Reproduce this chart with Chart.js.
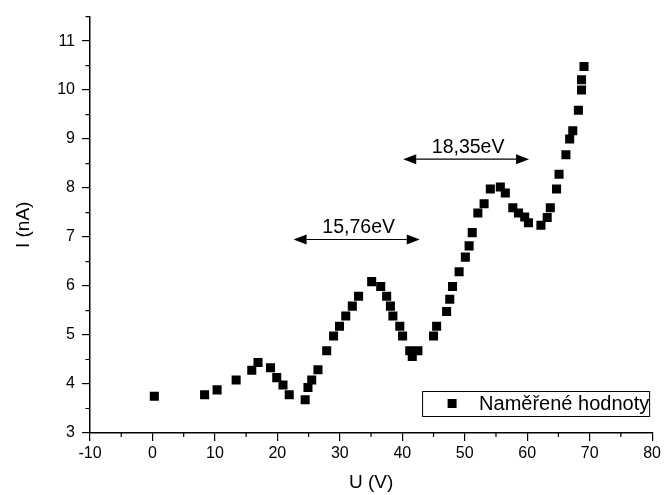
<!DOCTYPE html>
<html>
<head>
<meta charset="utf-8">
<script src="https://cdn.jsdelivr.net/npm/chart.js@4/dist/chart.umd.min.js"></script>
<style>
  html, body { margin: 0; padding: 0; background: #fff; }
</style>
</head>
<body>
<canvas id="chart" width="664" height="495"></canvas>
<script>
// measured values: U (V) and I (nA)
const uValues = [0.3, 8.35, 10.35, 13.4, 15.9, 16.9, 18.9, 19.9, 20.9, 21.9,
  24.45, 24.9, 25.5, 26.5, 27.9, 29.0, 29.95, 30.95, 32.0, 33.0,
  35.1, 36.55, 37.5, 38.1, 38.5, 39.6, 40.05, 41.2, 41.6, 42.5,
  45.0, 45.5, 47.1, 47.6, 48.05, 49.1, 50.1, 50.7, 51.2, 52.1,
  53.1, 54.1, 55.7, 56.5, 57.7, 58.6, 59.6, 60.2, 62.2, 63.2,
  63.7, 64.7, 65.1, 66.2, 66.8, 67.3, 68.2, 68.7, 68.7, 69.1];
const iValues = [3.75, 3.78, 3.88, 4.08, 4.28, 4.44, 4.33, 4.13, 3.98, 3.78,
  3.68, 3.93, 4.08, 4.29, 4.68, 4.98, 5.18, 5.39, 5.59, 5.79,
  6.09, 5.99, 5.79, 5.59, 5.39, 5.18, 4.98, 4.68, 4.56, 4.68,
  4.98, 5.18, 5.48, 5.73, 5.99, 6.29, 6.59, 6.82, 7.09, 7.49,
  7.68, 7.98, 8.02, 7.9, 7.6, 7.49, 7.41, 7.29, 7.24, 7.4,
  7.6, 7.98, 8.28, 8.68, 9.0, 9.17, 9.59, 10.0, 10.21, 10.48];
const seriesLabel = 'Naměřené hodnoty';

// axis ticks
const xMinorTicks = [-5, 5, 15, 25, 35, 45, 55, 65, 75];
const yMinorTicks = [3.5, 4.5, 5.5, 6.5, 7.5, 8.5, 9.5, 10.5, 11.5];

// energy gaps marked with double arrows (in data units)
const gapLabels = ['15,76eV', '18,35eV'];
const gapFrom = [22.6, 40.15];
const gapTo = [42.8, 60.3];
const gapLevel = [6.95, 8.59];

const points = uValues.map((u, i) => ({ x: u, y: iValues[i] }));
const fontFamily = '"Liberation Sans", Arial, sans-serif';

const extras = {
  id: 'extras',
  afterDraw(chart) {
    const { ctx, scales: { x, y }, chartArea } = chart;
    ctx.save();
    ctx.strokeStyle = '#000';
    ctx.fillStyle = '#000';

    // minor ticks
    ctx.lineWidth = 1.2;
    ctx.beginPath();
    xMinorTicks.forEach(v => {
      const px = x.getPixelForValue(v);
      ctx.moveTo(px, chartArea.bottom);
      ctx.lineTo(px, chartArea.bottom + 4);
    });
    yMinorTicks.forEach(v => {
      const py = y.getPixelForValue(v);
      ctx.moveTo(chartArea.left, py);
      ctx.lineTo(chartArea.left - 4.5, py);
    });
    ctx.stroke();

    // double arrows with labels
    const head = 13, half = 5;
    ctx.font = '19.5px ' + fontFamily;
    ctx.textAlign = 'center';
    ctx.textBaseline = 'middle';
    gapLabels.forEach((label, i) => {
      const x1 = x.getPixelForValue(gapFrom[i]);
      const x2 = x.getPixelForValue(gapTo[i]);
      const py = y.getPixelForValue(gapLevel[i]);
      ctx.lineWidth = 1.2;
      ctx.beginPath();
      ctx.moveTo(x1 + head, py);
      ctx.lineTo(x2 - head, py);
      ctx.stroke();
      ctx.beginPath();
      ctx.moveTo(x1, py);
      ctx.lineTo(x1 + head, py - half);
      ctx.lineTo(x1 + head, py + half);
      ctx.closePath();
      ctx.moveTo(x2, py);
      ctx.lineTo(x2 - head, py - half);
      ctx.lineTo(x2 - head, py + half);
      ctx.closePath();
      ctx.fill();
      ctx.fillText(label, (x1 + x2) / 2 + 2, py - 11.5);
    });

    // legend box
    const boxW = 227, boxH = 25;
    const bx = chartArea.right - 3 - boxW;
    const by = chartArea.bottom - 17 - boxH;
    ctx.lineWidth = 1;
    ctx.strokeRect(bx + 0.5, by + 0.5, boxW, boxH);
    ctx.fillRect(bx + 30 - 4.5, by + boxH / 2 - 4.5, 9, 9);
    ctx.textAlign = 'left';
    ctx.font = '20px ' + fontFamily;
    ctx.fillText(seriesLabel, bx + 57, by + boxH / 2 + 1);
    ctx.restore();
  }
};

new Chart(document.getElementById('chart'), {
  type: 'scatter',
  data: {
    datasets: [{
      label: seriesLabel,
      data: points,
      pointStyle: 'rect',
      pointRadius: 6.4,
      pointBorderWidth: 0,
      backgroundColor: '#000',
      borderColor: '#000'
    }]
  },
  options: {
    responsive: false,
    animation: false,
    devicePixelRatio: 1,
    layout: { padding: { top: 13, right: 9, left: 0, bottom: 0 } },
    plugins: {
      legend: { display: false },
      tooltip: { enabled: false }
    },
    scales: {
      x: {
        type: 'linear',
        min: -10,
        max: 80,
        afterFit: s => { s.height = 62; },
        ticks: {
          stepSize: 10,
          color: '#000',
          padding: 3,
          maxRotation: 0,
          font: { family: fontFamily, size: 16 }
        },
        grid: { drawOnChartArea: false, drawTicks: true, tickLength: 8, color: '#000', lineWidth: 1.2 },
        border: { display: true, color: '#000', width: 1.5 },
        title: {
          display: true,
          text: 'U (V)',
          color: '#000',
          font: { family: fontFamily, size: 19 },
          padding: { top: 0, bottom: 1 }
        }
      },
      y: {
        type: 'linear',
        min: 3,
        max: 11.5,
        afterFit: s => { s.width = 90; },
        ticks: {
          stepSize: 1,
          includeBounds: false,
          color: '#000',
          padding: 7,
          font: { family: fontFamily, size: 16 }
        },
        grid: { drawOnChartArea: false, drawTicks: true, tickLength: 8, color: '#000', lineWidth: 1.2 },
        border: { display: true, color: '#000', width: 1.5 },
        title: {
          display: true,
          text: 'I (nA)',
          color: '#000',
          font: { family: fontFamily, size: 19 },
          padding: { top: 12, bottom: 0 }
        }
      }
    }
  },
  plugins: [extras]
});
</script>
</body>
</html>
